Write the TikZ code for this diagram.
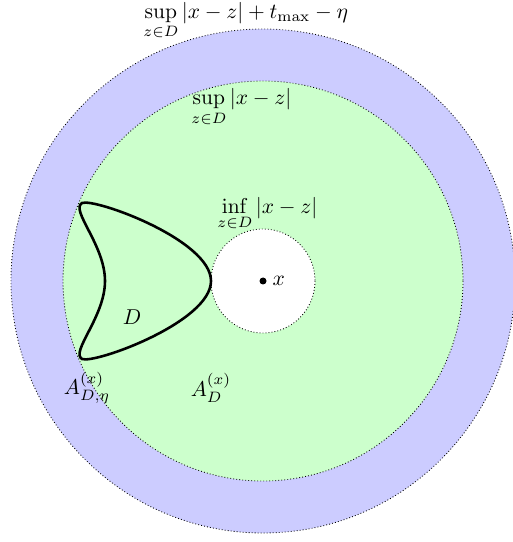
\documentclass[tikz,border=0pt]{standalone}
\usepackage{amsmath}
\begin{document}
\begin{tikzpicture}[x=0.4651pt, y=-0.4651pt,
    ring/.style={draw=black, densely dotted, thin}]
    \useasboundingbox (0,0) rectangle (512,542);

    % Define the centre and the points of the set D
    \coordinate (X) at (263,281);
    \coordinate (M) at (105,281);
    \coordinate (T) at (82,203);
    \coordinate (R) at (211,281);
    \coordinate (B) at (82,359);

    % Draw the discs (outer ring, annulus, hole)
    \path[ring, fill=blue!20] (X) circle[radius=252];
    \path[ring, fill=green!20] (X) circle[radius=200];
    \path[ring, fill=white] (X) circle[radius=52];

    % Draw the set D
    \draw[line width=1.2pt] (M) .. controls (105,245) and (70,210) .. (T)
        .. controls (95,198) and (211,240) .. (R)
        .. controls (211,322) and (95,364) .. (B)
        .. controls (70,352) and (105,317) .. (M) -- cycle;

    % The point x
    \fill (X) circle[radius=3.5];
    \node[anchor=west] (xl) at (265,281) {$x$};

    % Labels for the radii
    \node[anchor=base west, inner sep=0] (supout) at (143,18.5) {$\sup\limits_{z\in D}|x-z|+t_{\max}-\eta$};
    \node[anchor=base west, inner sep=0] (supin) at (191,105) {$\sup\limits_{z\in D}|x-z|$};
    \node[anchor=base west, inner sep=0] (infin) at (217,214) {$\inf\limits_{z\in D}|x-z|$};

    % Labels for the regions
    \node (Dl) at (132,317) {$D$};
    \node (Aeta) at (87,388) {$A^{(x)}_{D,\eta}$};
    \node (AD) at (211,388) {$A^{(x)}_{D}$};
\end{tikzpicture}
\end{document}
